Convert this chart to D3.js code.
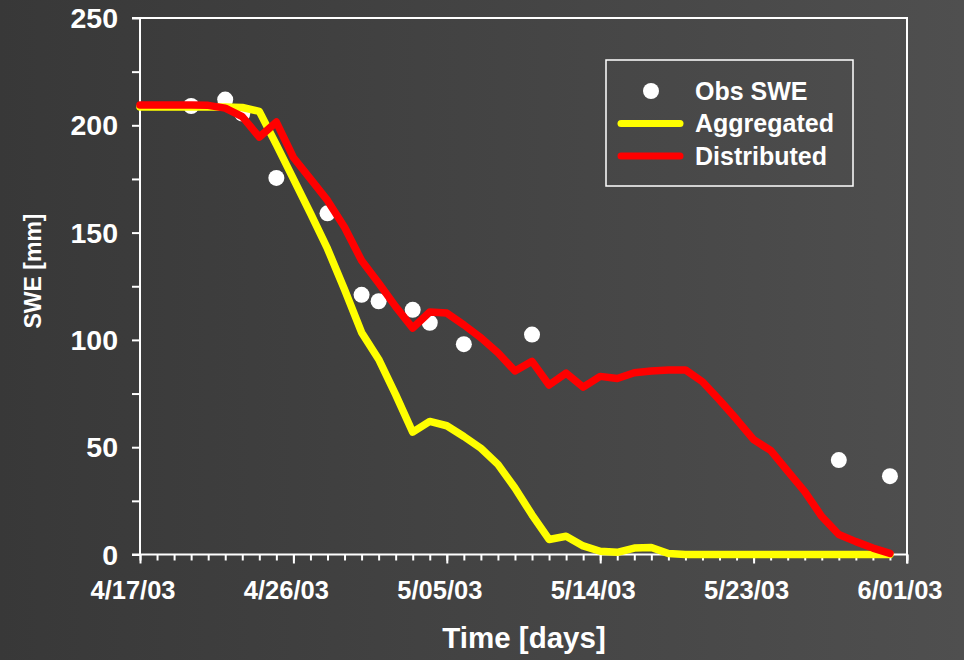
<!DOCTYPE html>
<html>
<head>
<meta charset="utf-8">
<script src="https://cdn.jsdelivr.net/npm/d3@7"></script>
<style>
  html, body { margin: 0; padding: 0; background: #444; }
  svg text { font-family: "Liberation Sans", Arial, sans-serif; font-weight: bold; fill: #fff; }
</style>
</head>
<body>
<div id="chart"></div>
<script>
// daily dates of the model run
const dates = [
  "4/17/03","4/18/03","4/19/03","4/20/03","4/21/03","4/22/03","4/23/03","4/24/03","4/25/03",
  "4/26/03","4/27/03","4/28/03","4/29/03","4/30/03","5/01/03","5/02/03","5/03/03","5/04/03",
  "5/05/03","5/06/03","5/07/03","5/08/03","5/09/03","5/10/03","5/11/03","5/12/03","5/13/03",
  "5/14/03","5/15/03","5/16/03","5/17/03","5/18/03","5/19/03","5/20/03","5/21/03","5/22/03",
  "5/23/03","5/24/03","5/25/03","5/26/03","5/27/03","5/28/03","5/29/03","5/30/03","5/31/03"
]

const aggregated = [
  208.5, 208.5, 208.5, 208.5, 208.5, 208.5, 208.3, 206.5, 191, 175,
  159, 142.5, 123.5, 103.5, 91, 74.5, 57, 62, 60, 55,
  49.5, 42, 31, 18.5, 7, 8.5, 4, 1.5, 1, 3,
  3.3, 0.5, 0, 0, 0, 0, 0, 0, 0, 0,
  0, 0, 0, 0, 0
]

const distributed = [
  209.5, 209.5, 209.5, 209.5, 209.3, 208, 204, 194.5, 201.5, 185,
  175, 165, 152.5, 137, 126.5, 115.5, 105.5, 113, 112.5, 107,
  101, 94, 85.5, 90, 79, 84.5, 78, 83, 82, 84.7,
  85.5, 86, 86, 80.5, 72, 63, 53.5, 48.5, 38.8, 29.3,
  17.7, 9.3, 6, 3, 0.5
]

const obsDates = ["4/20/03","4/22/03","4/23/03","4/25/03","4/28/03","4/30/03","5/01/03",
                  "5/03/03","5/04/03","5/06/03","5/10/03","5/28/03","5/31/03"]
const obsSWE = [209, 212, 205.5, 175.5, 159, 121, 118, 114, 108, 98, 102.5, 44, 36.5]

const xTickLabels = ["4/17/03","4/26/03","5/05/03","5/14/03","5/23/03","6/01/03"]
const yTicks = [0, 50, 100, 150, 200, 250]

const parse = d3.timeParse("%m/%d/%y")

const W = 964, H = 660
const margin = {top: 18, right: 57, bottom: 105.5, left: 140},
  w = W - margin.left - margin.right,
  h = H - margin.top - margin.bottom

const svg = d3.select("#chart")
  .append("svg")
  .attr("width", W)
  .attr("height", H)

const grad = svg.append("defs").append("linearGradient")
  .attr("id", "bg")
  .attr("x1", "0%").attr("y1", "0%")
  .attr("x2", "100%").attr("y2", "0%")
grad.append("stop").attr("offset", "0%").attr("stop-color", "#383838")
grad.append("stop").attr("offset", "100%").attr("stop-color", "#4f4f4f")

svg.append("rect")
  .attr("width", W)
  .attr("height", H)
  .attr("fill", "url(#bg)")

const g = svg.append("g")
  .attr("transform", `translate(${margin.left},${margin.top})`)

const xTicks = xTickLabels.map(parse)
const x = d3.scaleTime()
  .domain([xTicks[0], xTicks[xTicks.length - 1]])
  .range([0, w])

const y = d3.scaleLinear()
  .domain([0, 250])
  .range([h, 0])

// frame: top and right border
g.append("path")
  .attr("d", `M${-8},0H${w}V${h + 9}`)
  .attr("fill", "none")
  .attr("stroke", "#fff")
  .attr("stroke-width", 2)

// y axis
const yAxis = g.append("g")
  .call(d3.axisLeft(y).tickValues(d3.range(0, 251, 25)).tickSize(8).tickFormat(""))
yAxis.selectAll("line, path").attr("stroke", "#fff").attr("stroke-width", 2)
yAxis.select(".domain").attr("d", `M0,${h}V0`)

g.selectAll(".ylabel")
  .data(yTicks)
  .enter()
  .append("text")
  .attr("class", "ylabel")
  .attr("x", -22)
  .attr("y", d => y(d) + 10)
  .attr("text-anchor", "end")
  .style("font-size", "28.5px")
  .text(d => d)

// x axis: minor ticks daily, major every 9 days
const minor = d3.timeDay.range(xTicks[0], d3.timeDay.offset(xTicks[xTicks.length - 1], 1))
const xMinor = g.append("g")
  .attr("transform", `translate(0,${h})`)
  .call(d3.axisBottom(x).tickValues(minor).tickSize(6).tickFormat(""))
xMinor.selectAll("line").attr("stroke", "#fff").attr("stroke-width", 2)
xMinor.select(".domain").attr("d", `M-8,0H${w}`).attr("stroke", "#fff").attr("stroke-width", 2)

const xMajor = g.append("g")
  .attr("transform", `translate(0,${h})`)
  .call(d3.axisBottom(x).tickValues(xTicks).tickSize(9).tickFormat(""))
xMajor.selectAll("line").attr("stroke", "#fff").attr("stroke-width", 2)
xMajor.select(".domain").remove()

g.selectAll(".xlabel")
  .data(xTickLabels)
  .enter()
  .append("text")
  .attr("class", "xlabel")
  .attr("x", d => x(parse(d)) - 7)
  .attr("y", h + 44)
  .attr("text-anchor", "middle")
  .style("font-size", "25.5px")
  .text(d => d)

// axis titles
svg.append("text")
  .attr("x", 524)
  .attr("y", 648)
  .attr("text-anchor", "middle")
  .style("font-size", "29.5px")
  .text("Time [days]")

svg.append("text")
  .attr("transform", "translate(41,271) rotate(-90)")
  .attr("text-anchor", "middle")
  .style("font-size", "23px")
  .text("SWE [mm]")

// observations
g.selectAll(".obs")
  .data(obsDates)
  .enter()
  .append("circle")
  .attr("class", "obs")
  .attr("cx", d => x(parse(d)))
  .attr("cy", (d, i) => y(obsSWE[i]))
  .attr("r", 8)
  .attr("fill", "#fff")

const line = d3.line()
  .x(d => x(parse(d[0])))
  .y(d => y(d[1]))

g.append("path")
  .datum(dates.map((d, i) => [d, aggregated[i]]))
  .attr("d", line)
  .attr("fill", "none")
  .attr("stroke", "#ffff00")
  .attr("stroke-width", 7.5)
  .attr("stroke-linejoin", "round")
  .attr("stroke-linecap", "round")

g.append("path")
  .datum(dates.map((d, i) => [d, distributed[i]]))
  .attr("d", line)
  .attr("fill", "none")
  .attr("stroke", "#ff0000")
  .attr("stroke-width", 7.5)
  .attr("stroke-linejoin", "round")
  .attr("stroke-linecap", "round")

// legend
const legend = svg.append("g")
  .attr("transform", "translate(606,60)")

legend.append("rect")
  .attr("width", 247)
  .attr("height", 126)
  .attr("fill", "none")
  .attr("stroke", "#fff")
  .attr("stroke-width", 1.5)

const legendItems = [
  {name: "Obs SWE", type: "dot", color: "#fff"},
  {name: "Aggregated", type: "line", color: "#ffff00"},
  {name: "Distributed", type: "line", color: "#ff0000"}
]

legendItems.forEach(function(d, i) {
  const cy = 31 + i * 32.5
  if (d.type === "dot") {
    legend.append("circle")
      .attr("cx", 45)
      .attr("cy", cy)
      .attr("r", 8)
      .attr("fill", d.color)
  } else {
    legend.append("line")
      .attr("x1", 15)
      .attr("x2", 74)
      .attr("y1", cy)
      .attr("y2", cy)
      .attr("stroke", d.color)
      .attr("stroke-width", 7)
      .attr("stroke-linecap", "round")
  }
  legend.append("text")
    .attr("x", 89)
    .attr("y", cy + 8.5)
    .style("font-size", "25px")
    .text(d.name)
})
</script>
</body>
</html>
